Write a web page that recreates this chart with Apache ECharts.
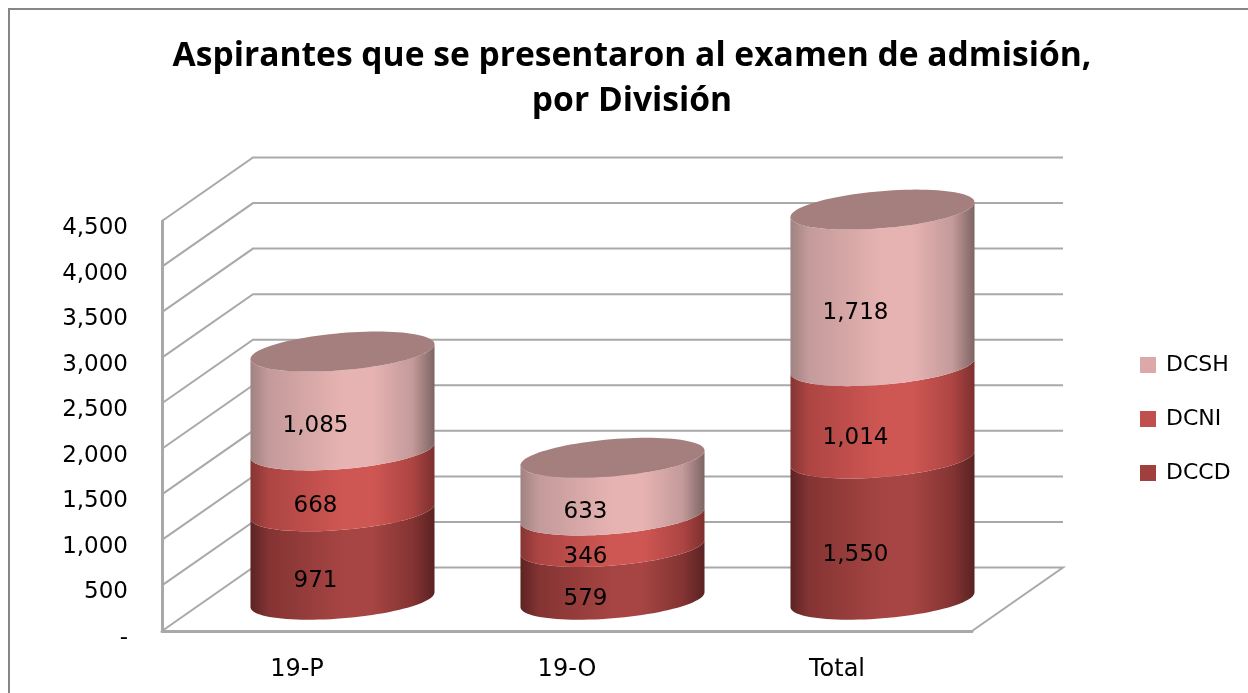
<!DOCTYPE html>
<html>
<head>
<meta charset="utf-8">
<title>Aspirantes</title>
<script src="https://cdn.jsdelivr.net/npm/echarts@6/dist/echarts.min.js"></script>
<style>
html,body{margin:0;padding:0;background:#fff;}
#main{width:1248px;height:693px;}
</style>
</head>
<body>
<div id="main"></div>
<script>
var categories = ['19-P', '19-O', 'Total'];
var dccd = [971, 579, 1550];
var dcni = [668, 346, 1014];
var dcsh = [1085, 633, 1718];
var yTicks = [0, 500, 1000, 1500, 2000, 2500, 3000, 3500, 4000, 4500];

var depthX = 91, depthY = -63.5;   // desplazamiento del fondo 3D
var font = 'DejaVu Sans';
var lineColor = '#a9a9a9';

var chart = echarts.init(document.getElementById('main'));

// elipse oblicua: a, b en x; c en y
var A = 85.5, B = 34, C = 20, SIDE = Math.atan2(B, A);
function ellipsePt(cx, cy, t) {
    return [cx + A * Math.cos(t) + B * Math.sin(t), cy - C * Math.sin(t)];
}
// mitad frontal, de derecha a izquierda
function frontArc(cx, cy) {
    var pts = [];
    for (var i = 0; i <= 48; i++) {
        pts.push(ellipsePt(cx, cy, SIDE - Math.PI * i / 48));
    }
    return pts;
}
function sideFill(c) {
    return new echarts.graphic.LinearGradient(0, 0, 1, 0, [
        {offset: 0, color: c[0]},
        {offset: 0.1, color: c[1]},
        {offset: 0.5, color: c[2]},
        {offset: 0.66, color: c[2]},
        {offset: 0.88, color: c[1]},
        {offset: 1, color: c[3]}
    ]);
}

function cylinder(palette, isTop) {
    return function (params, api) {
        var base = api.coord([api.value(0), api.value(1)]);
        var top = api.coord([api.value(0), api.value(2)]);
        var cx = base[0] + depthX / 2;
        var y0 = base[1] + depthY / 2 + 0.5;
        var y1 = top[1] + depthY / 2 + 0.5;
        var pts = frontArc(cx, y0).concat(frontArc(cx, y1).reverse());
        var children = [{
            type: 'polygon',
            shape: {points: pts},
            style: {fill: sideFill(palette)}
        }];
        if (isTop) {
            var cap = [];
            for (var i = 0; i < 96; i++) {
                cap.push(ellipsePt(cx, y1, Math.PI * 2 * i / 96));
            }
            children.push({
                type: 'polygon',
                shape: {points: cap},
                style: {fill: '#a57f7e'}
            });
        }
        children.push({
            type: 'text',
            z2: 10,
            style: {
                text: (api.value(2) - api.value(1)).toLocaleString('en-US'),
                x: cx - 27,
                y: (y0 + y1) / 2 + 25.5,
                align: 'center',
                verticalAlign: 'middle',
                fill: '#000',
                font: '23px "' + font + '"'
            }
        });
        return {type: 'group', children: children};
    };
}

// paredes y piso
function wallItem(params, api) {
    var rect = params.coordSys;
    var y = api.coord([0, api.value(0)])[1];
    var x0 = rect.x, x1 = rect.x + rect.width;
    var style = {stroke: lineColor, lineWidth: 2, fill: null, lineJoin: 'miter'};
    var points = [[x0, y], [x0 + depthX, y + depthY], [x1 + depthX, y + depthY]];
    if (api.value(0) === 0) {
        points.push([x1, y]);
    }
    return {type: 'polyline', shape: {points: points}, style: style, silent: true};
}

function stackData(lower, values) {
    return values.map(function (v, i) {
        return [i, lower[i], lower[i] + v];
    });
}
var base1 = dccd.map(function () { return 0; });
var base2 = dccd.slice();
var base3 = dccd.map(function (v, i) { return v + dcni[i]; });

var option = {
    animation: false,
    backgroundColor: '#fff',
    graphic: [{
        type: 'rect',
        shape: {x: 9, y: 9, width: 1400, height: 900},
        style: {fill: null, stroke: '#868686', lineWidth: 2},
        silent: true,
        z: -1
    }],
    title: {
        text: 'Aspirantes que se presentaron al examen de admisión,\npor División',
        left: 632,
        top: 34,
        padding: 0,
        textAlign: 'center',
        textStyle: {
            fontFamily: 'Open Sans',
            fontWeight: 'bold',
            fontSize: 33.6,
            lineHeight: 45,
            color: '#000'
        }
    },
    legend: {
        orient: 'vertical',
        left: 1140,
        top: 354,
        padding: 0,
        icon: 'rect',
        itemWidth: 16,
        itemHeight: 16,
        itemGap: 32,
        data: ['DCSH', 'DCNI', 'DCCD'],
        textStyle: {fontFamily: font, fontSize: 22, color: '#000', padding: [0, 0, 0, 5]}
    },
    grid: {left: 162, top: 221, width: 810, height: 410},
    xAxis: {
        type: 'category',
        data: categories,
        axisTick: {show: false},
        axisLine: {show: true, lineStyle: {color: lineColor, width: 3}},
        axisLabel: {margin: 27, fontFamily: font, fontSize: 24, color: '#000'}
    },
    yAxis: {
        type: 'value',
        min: 0,
        max: 4500,
        interval: 500,
        splitLine: {show: false},
        axisTick: {show: false},
        axisLine: {show: true, lineStyle: {color: lineColor, width: 3}},
        axisLabel: {
            margin: 34,
            fontFamily: font,
            fontSize: 23,
            color: '#000',
            verticalAlign: 'top',
            padding: [0, 0, 0, 0],
            lineHeight: 14,
            formatter: function (v) {
                return v === 0 ? '-' : v.toLocaleString('en-US');
            }
        }
    },
    series: [
        {
            type: 'custom',
            renderItem: wallItem,
            data: yTicks.map(function (v) { return [v]; }),
            encode: {y: 0},
            silent: true,
            z: 1
        },
        {
            name: 'DCCD',
            type: 'custom',
            renderItem: cylinder(['#5c2323', '#843433', '#a64543', '#5a2222'], false),
            data: stackData(base1, dccd),
            encode: {x: 0, y: [1, 2]},
            itemStyle: {color: '#a03f3c'},
            z: 2
        },
        {
            name: 'DCNI',
            type: 'custom',
            renderItem: cylinder(['#853533', '#ad4543', '#cf5753', '#7c302e'], false),
            data: stackData(base2, dcni),
            encode: {x: 0, y: [1, 2]},
            itemStyle: {color: '#c0504d'},
            z: 3
        },
        {
            name: 'DCSH',
            type: 'custom',
            renderItem: cylinder(['#a08282', '#c49a9a', '#e6b3b2', '#7e6464'], true),
            data: stackData(base3, dcsh),
            encode: {x: 0, y: [1, 2]},
            itemStyle: {color: '#dba9a9'},
            z: 4
        }
    ]
};
chart.setOption(option);
</script>
</body>
</html>
